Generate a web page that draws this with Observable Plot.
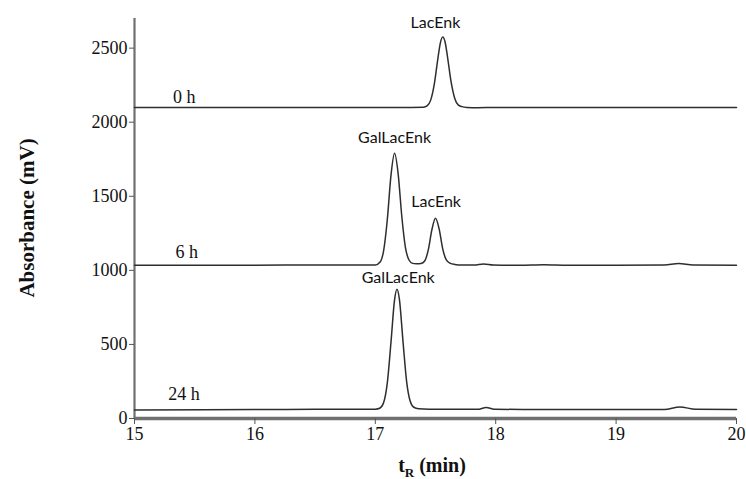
<!DOCTYPE html>
<html><head><meta charset="utf-8">
<script src="https://cdn.jsdelivr.net/npm/d3@7"></script>
<script src="https://cdn.jsdelivr.net/npm/@observablehq/plot@0.6"></script>
<style>body{margin:0;background:#fff} svg{display:block}</style>
</head><body><div id="chart"></div>
<script>
// Axis ticks
const xTicks = [15, 16, 17, 18, 19, 20];
const yTicks = [0, 500, 1000, 1500, 2000, 2500];

// 0 h trace (retention time, absorbance)
const t0h = [15, 16, 17, 17.3, 17.40, 17.43, 17.46, 17.49, 17.52, 17.54, 17.56, 17.58, 17.60, 17.63, 17.66, 17.69, 17.72, 17.76, 17.85, 18, 18.5, 19, 19.5, 20];
const a0h = [2100, 2100, 2100, 2100, 2101, 2110, 2149, 2257, 2431, 2534, 2575, 2540, 2440, 2270, 2160, 2115, 2105, 2100, 2098, 2100, 2099, 2100, 2100, 2100];

// 6 h trace
const t6h = [15, 16, 16.5, 17, 17.04, 17.07, 17.10, 17.13, 17.16, 17.19, 17.22, 17.25, 17.28, 17.31, 17.34, 17.38, 17.41, 17.44, 17.47, 17.50, 17.53, 17.56, 17.59, 17.62, 17.66, 17.72, 17.82, 17.90, 17.98, 18.2, 18.4, 18.6, 19, 19.4, 19.52, 19.64, 20];
const a6h = [1035, 1035, 1036, 1036, 1056, 1137, 1345, 1639, 1790, 1650, 1365, 1155, 1070, 1047, 1044, 1046, 1063, 1138, 1274, 1351, 1280, 1145, 1070, 1049, 1040, 1036, 1036, 1043, 1036, 1034, 1037, 1034, 1034, 1036, 1046, 1036, 1035];

// 24 h trace
const t24h = [15, 16, 16.5, 17, 17.04, 17.07, 17.10, 17.13, 17.16, 17.18, 17.20, 17.23, 17.26, 17.29, 17.32, 17.36, 17.45, 17.7, 17.85, 17.92, 18.0, 18.3, 18.6, 19, 19.4, 19.53, 19.66, 20];
const a24h = [58, 60, 62, 63, 71, 109, 242, 512, 801, 872, 806, 521, 251, 116, 76, 66, 63, 62, 62, 74, 62, 61, 60, 60, 61, 78, 62, 60];

// Trace labels
const traceNames = ["0 h", "6 h", "24 h"];
const traceLabelT = [15.32, 15.34, 15.28];
const traceLabelA = [2128, 1081, 122];

// Peak labels
const peakNames = ["LacEnk", "GalLacEnk", "LacEnk", "GalLacEnk"];
const peakT = [17.50, 17.16, 17.505, 17.19];
const peakA = [2635, 1858, 1426, 912];

const rows = (name, ts, as) => ts.map((t, i) => ({trace: name, t, a: as[i]}));
const data = [...rows("0 h", t0h, a0h), ...rows("6 h", t6h, a6h), ...rows("24 h", t24h, a24h)];
const tLabels = traceNames.map((n, i) => ({n, t: traceLabelT[i], a: traceLabelA[i]}));
const pLabels = peakNames.map((n, i) => ({n, t: peakT[i], a: peakA[i]}));

const serif = "'Liberation Serif', 'Times New Roman', serif";
const sans = "Lato, 'Open Sans', sans-serif";
const plot = Plot.plot({
  width: 746, height: 479,
  marginLeft: 134, marginRight: 10, marginTop: 18, marginBottom: 61,
  style: {background: "#fff", color: "#000"},
  x: {domain: [15, 20], axis: null},
  y: {domain: [0, 2700], axis: null},
  marks: [
    Plot.ruleX([15], {y1: 0, y2: 2700, stroke: "#707070", strokeWidth: 2.2}),
    Plot.line(data, {x: "t", y: "a", z: "trace", stroke: "#2e2e2e", strokeWidth: 1.5, curve: "monotone-x"}),
    Plot.ruleY([0], {stroke: "#707070", strokeWidth: 3.5}),
    Plot.axisX({ticks: xTicks, tickSize: 6, tickPadding: 3, tickFormat: d => String(d), label: null, stroke: "#555", fontSize: 18, fill: "#111"}),
    Plot.axisY({ticks: yTicks, tickSize: 5, tickPadding: 2, tickFormat: d => String(d), label: null, stroke: "#555", fontSize: 18, fill: "#111"}),
    Plot.text(tLabels, {x: "t", y: "a", text: "n", textAnchor: "start", lineAnchor: "bottom", fontSize: 18, fill: "#111"}),
    Plot.text(pLabels, {x: "t", y: "a", text: "n", textAnchor: "middle", lineAnchor: "bottom", fontSize: 16, fill: "#111", className: "peaklabels"})
  ]
});

const svg = d3.select(plot);
svg.selectAll("text").style("font-family", serif);
svg.selectAll(".peaklabels text").style("font-family", sans);
svg.selectAll("text").filter(function() { return peakNames.includes(this.textContent); }).style("font-family", sans);
// Y axis title
svg.append("text")
  .attr("transform", "translate(34,218) rotate(-90)")
  .attr("text-anchor", "middle")
  .style("font-family", serif)
  .attr("font-weight", "bold")
  .attr("font-size", 21)
  .attr("fill", "#111")
  .text("Absorbance (mV)");
// X axis title with subscript
const xt = svg.append("text")
  .attr("x", 432).attr("y", 472)
  .attr("text-anchor", "middle")
  .style("font-family", serif)
  .attr("font-weight", "bold")
  .attr("font-size", 20)
  .attr("fill", "#111");
xt.append("tspan").text("t");
xt.append("tspan").attr("font-size", 13).attr("dy", 5).text("R");
xt.append("tspan").attr("dy", -5).text(" (min)");

document.getElementById("chart").appendChild(plot);
</script>
</body></html>
